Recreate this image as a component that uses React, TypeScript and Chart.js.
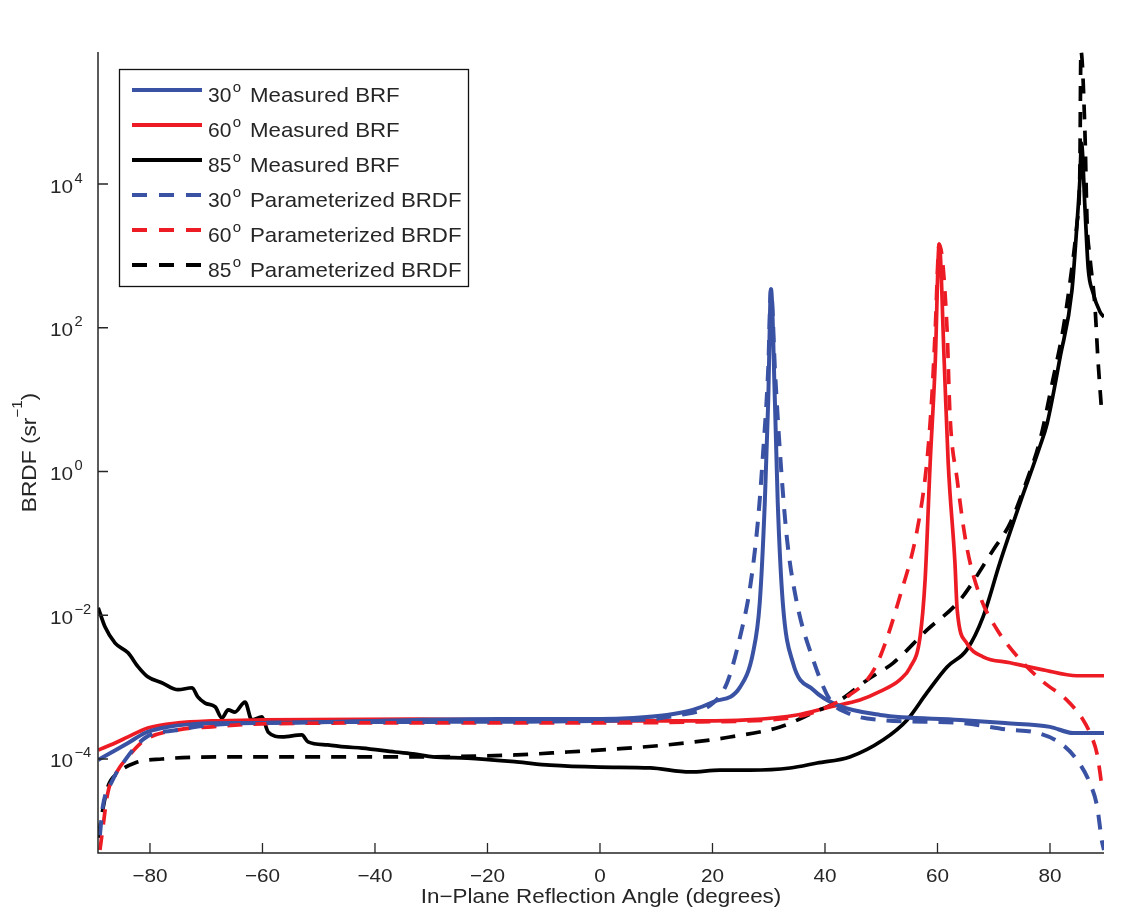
import React, { useEffect, useRef } from 'react';
import { Chart, registerables } from 'chart.js';

Chart.register(...registerables);

const W = 1130;
const H = 916;

// ---- axes ----
const xTicks = [-80, -60, -40, -20, 0, 20, 40, 60, 80];
const xTickLabels = ['\u221280', '\u221260', '\u221240', '\u221220', '0', '20', '40', '60', '80'];
const yTicks = [1e-4, 1e-2, 1, 1e2, 1e4];
const yTickExponents = ['\u22124', '\u22122', '0', '2', '4'];
const xRange = [-89.24, 89.6];
const yRange = [4.92e-6, 6.87e5];
const xTitle = 'In\u2212Plane Reflection Angle (degrees)';
const yTitleMain = 'BRDF (sr';
const yTitleSup = '\u22121';
const yTitleEnd = ')';

// ---- legend ----
const incidenceAngles = ['30', '60', '85', '30', '60', '85'];
const seriesKinds = ['Measured BRF', 'Measured BRF', 'Measured BRF', 'Parameterized BRDF', 'Parameterized BRDF', 'Parameterized BRDF'];

// ---- 30 deg measured ----
const meas30X = [-89.2, -83.9, -80.9, -77.9, -72.0, -66.1, -60.1, -32.9, -17.8, 0, 5.9, 11.9, 16.5, 20.1, 24.9, 27.2, 28.4, 29.3, 29.9, 30.4, 31.1, 31.6, 32.5, 34.3, 37.9, 42.1, 49.8, 64.0, 72.0, 80.0, 84.1, 89.6];
const meas30Y = [9.7e-5, 1.67e-4, 2.3e-4, 2.7e-4, 3.08e-4, 3.18e-4, 3.18e-4, 3.5e-4, 3.6e-4, 3.6e-4, 3.72e-4, 4.1e-4, 4.82e-4, 6.2e-4, 1.0e-3, 3.0e-3, 1.49e-2, 0.37, 9.2, 344, 9.2, 0.37, 1.49e-2, 2.18e-3, 9.2e-4, 5.66e-4, 4.1e-4, 3.5e-4, 3.16e-4, 2.8e-4, 2.3e-4, 2.3e-4];

// ---- 60 deg measured ----
const meas60X = [-89.2, -86.2, -83.9, -80.4, -75.0, -69.0, -60.1, -32.9, 0, 17.8, 26.1, 35.0, 40.9, 46.2, 49.8, 53.3, 55.1, 56.9, 57.8, 58.7, 59.6, 60.3, 61.2, 61.9, 63.1, 63.5, 65.2, 68.1, 72.9, 78.8, 84.8, 89.6];
const meas60Y = [1.33e-4, 1.67e-4, 2.03e-4, 2.7e-4, 3.18e-4, 3.39e-4, 3.5e-4, 3.6e-4, 3.39e-4, 3.39e-4, 3.5e-4, 4.1e-4, 5.3e-4, 6.6e-4, 8.7e-4, 1.26e-3, 1.86e-3, 5.0e-3, 3.13e-2, 1.33, 33, 1460, 33, 1.33, 5.4e-2, 1.19e-2, 4.1e-3, 2.64e-3, 2.18e-3, 1.74e-3, 1.44e-3, 1.44e-3];

// ---- 85 deg measured ----
const meas85X = [-89.2, -88.0, -86.2, -83.9, -82.1, -80.4, -77.9, -75.0, -72.5, -71.5, -70.2, -68.4, -67.2, -66.1, -64.9, -63.1, -61.9, -60.1, -59.0, -56.5, -53.0, -51.9, -48.4, -45.3, -42.3, -36.4, -32.9, -29.7, -23.6, -14.8, -8.9, 0, 8.9, 16.0, 21.3, 26.7, 33.8, 38.6, 44.4, 50.3, 54.6, 58.1, 61.7, 65.2, 68.1, 71.1, 74.7, 78.2, 79.5, 81.8, 83.9, 84.8, 85.3, 85.6, 86.2, 86.8, 87.6, 88.9, 89.6];
const meas85Y = [1.27e-2, 6.9e-3, 4.1e-3, 3.0e-3, 1.91e-3, 1.39e-3, 1.15e-3, 9.2e-4, 9.8e-4, 7.3e-4, 6.0e-4, 5.3e-4, 3.72e-4, 4.82e-4, 4.5e-4, 6.2e-4, 3.5e-4, 3.85e-4, 2.38e-4, 2.03e-4, 2.16e-4, 1.73e-4, 1.57e-4, 1.47e-4, 1.42e-4, 1.25e-4, 1.17e-4, 1.07e-4, 1.03e-4, 9.1e-5, 8.2e-5, 7.7e-5, 7.5e-5, 6.6e-5, 7.0e-5, 7.0e-5, 7.5e-5, 8.8e-5, 1.07e-4, 1.84e-4, 3.5e-4, 8.3e-4, 1.91e-3, 3.3e-3, 9.5e-3, 5.4e-2, 0.37, 2.23, 4.7, 39, 330, 2800, 11200, 37000, 4900, 660, 316, 166, 141];

// ---- 30 deg parameterized ----
const param30X = [-88.9, -88.4, -86.8, -84.4, -80.9, -75.0, -69.0, -60.1, -32.9, 0, 14.2, 20.1, 22.6, 24.9, 26.7, 28.1, 29.0, 29.9, 30.4, 31.1, 32.0, 33.2, 35.0, 37.9, 40.9, 43.9, 49.8, 64.0, 72.9, 77.0, 81.8, 84.8, 87.1, 88.4, 89.2, 89.6];
const param30Y = [8.7e-6, 2.14e-5, 4.8e-5, 9.7e-5, 1.96e-4, 2.54e-4, 2.98e-4, 3.18e-4, 3.28e-4, 3.39e-4, 4.1e-4, 6.0e-4, 1.15e-3, 5.0e-3, 2.5e-2, 0.214, 1.84, 26.4, 344, 26.4, 1.84, 0.124, 1.49e-2, 2.4e-3, 6.6e-4, 4.4e-4, 3.5e-4, 3.18e-4, 2.54e-4, 2.38e-4, 1.67e-4, 9.7e-5, 4.6e-5, 2.14e-5, 7.4e-6, 5.4e-6];

// ---- 60 deg parameterized ----
const param60X = [-88.9, -88.5, -87.5, -85.7, -83.9, -80.9, -75.0, -69.0, -60.1, -32.9, 0, 17.8, 35.0, 40.4, 44.4, 47.5, 49.8, 53.3, 56.4, 58.1, 59.0, 59.6, 60.3, 61.7, 62.2, 63.5, 65.2, 67.6, 70.6, 74.7, 78.8, 83.0, 85.9, 87.1, 88.4, 89.2];
const param60Y = [5.4e-6, 9.3e-6, 3.36e-5, 7.0e-5, 1.07e-4, 1.84e-4, 2.54e-4, 2.8e-4, 3.08e-4, 3.18e-4, 3.18e-4, 3.28e-4, 3.85e-4, 5.3e-4, 7.8e-4, 1.26e-3, 2.64e-3, 1.81e-2, 0.156, 1.33, 11.1, 95, 1460, 95, 6.6, 0.77, 9.0e-2, 1.81e-2, 6.3e-3, 2.4e-3, 1.18e-3, 6.6e-4, 3.5e-4, 2.3e-4, 1.14e-4, 4.3e-5];

// ---- 85 deg parameterized ----
const param85X = [-89.2, -88.5, -87.5, -85.7, -82.7, -77.9, -66.1, -32.9, -14.8, -5.9, 3.0, 11.9, 19.6, 23.1, 32.0, 37.9, 42.7, 47.5, 52.1, 58.1, 64.0, 69.9, 72.9, 75.9, 78.2, 80.5, 82.3, 83.6, 84.8, 85.3, 85.5, 86.2, 86.6, 87.1, 88.0, 88.5, 89.2];
const param85Y = [8.0e-6, 1.77e-5, 4.1e-5, 6.4e-5, 8.8e-5, 1.0e-4, 1.07e-4, 1.07e-4, 1.14e-4, 1.25e-4, 1.38e-4, 1.57e-4, 1.84e-4, 2.02e-4, 2.79e-4, 4.4e-4, 6.6e-4, 1.26e-3, 2.16e-3, 6.2e-3, 1.63e-2, 8.1e-2, 0.19, 0.76, 2.7, 18.7, 93, 460, 2850, 14100, 7.1e5, 56000, 2850, 960, 194, 39, 6.5];

const BLUE = '#3a52a3';
const RED = '#ed1c24';
const BLACK = '#000000';
const TEXT = '#262626';
const FONT = '"Liberation Sans", Arial, Helvetica, sans-serif';
const DASH = [15, 11];

const seriesXs = [meas30X, meas60X, meas85X, param30X, param60X, param85X];
const seriesYs = [meas30Y, meas60Y, meas85Y, param30Y, param60Y, param85Y];
const seriesColors = [BLUE, RED, BLACK, BLUE, RED, BLACK];
const seriesDashed = [false, false, false, true, true, true];

function drawText(ctx: CanvasRenderingContext2D, s: string, x: number, y: number, size: number, sx: number, align: CanvasTextAlign = 'left') {
  ctx.save();
  ctx.font = `${size}px ${FONT}`;
  ctx.textAlign = align;
  ctx.textBaseline = 'alphabetic';
  ctx.fillStyle = TEXT;
  ctx.translate(x, y);
  ctx.scale(sx, 1);
  ctx.fillText(s, 0, 0);
  const w = ctx.measureText(s).width * sx;
  ctx.restore();
  return w;
}

function measure(ctx: CanvasRenderingContext2D, s: string, size: number) {
  ctx.save();
  ctx.font = `${size}px ${FONT}`;
  const w = ctx.measureText(s).width;
  ctx.restore();
  return w;
}

const axesPlugin = {
  id: 'matlabAxes',
  afterDraw(chart: any) {
    const ctx: CanvasRenderingContext2D = chart.ctx;
    const a = chart.chartArea;
    const xs = chart.scales.x;
    const ys = chart.scales.y;

    // axis lines
    ctx.save();
    ctx.strokeStyle = TEXT;
    ctx.lineWidth = 1.5;
    ctx.setLineDash([]);
    ctx.beginPath();
    ctx.moveTo(a.left, a.top);
    ctx.lineTo(a.left, a.bottom);
    ctx.lineTo(a.right, a.bottom);
    ctx.stroke();
    ctx.lineWidth = 1.3;
    ctx.beginPath();
    xTicks.forEach((v) => {
      const px = xs.getPixelForValue(v);
      ctx.moveTo(px, a.bottom);
      ctx.lineTo(px, a.bottom - 10);
    });
    yTicks.forEach((v) => {
      const py = ys.getPixelForValue(v);
      ctx.moveTo(a.left, py);
      ctx.lineTo(a.left + 10, py);
    });
    ctx.stroke();
    ctx.restore();

    // tick labels
    xTicks.forEach((v, i) => {
      drawText(ctx, xTickLabels[i], xs.getPixelForValue(v), a.bottom + 29, 19, 1.09, 'center');
    });
    yTicks.forEach((v, i) => {
      const py = ys.getPixelForValue(v);
      drawText(ctx, '10', a.left - 25, py + 8.5, 19, 1.09, 'right');
      drawText(ctx, yTickExponents[i], a.left - 23.5, py - 1.5, 14, 1.05, 'left');
    });

    // x title
    drawText(ctx, xTitle, (a.left + a.right) / 2, a.bottom + 50, 20, 1.12, 'center');

    // y title (rotated)
    const sx = 1.08;
    const w1 = measure(ctx, yTitleMain, 21) * sx;
    const w2 = measure(ctx, yTitleSup, 14) * sx;
    const w3 = measure(ctx, yTitleEnd, 21) * sx;
    const total = w1 + w2 + w3;
    ctx.save();
    ctx.translate(a.left - 62, (a.top + a.bottom) / 2);
    ctx.rotate(-Math.PI / 2);
    let cx = -total / 2;
    drawText(ctx, yTitleMain, cx, 0, 21, sx);
    cx += w1;
    drawText(ctx, yTitleSup, cx, -14, 14, sx);
    cx += w2;
    drawText(ctx, yTitleEnd, cx, 0, 21, sx);
    ctx.restore();

    // legend
    const lx = a.left + 21.5;
    const ly = a.top + 17.5;
    ctx.save();
    ctx.fillStyle = '#ffffff';
    ctx.fillRect(lx, ly, 349, 217);
    ctx.strokeStyle = '#111111';
    ctx.lineWidth = 1.3;
    ctx.strokeRect(lx, ly, 349, 217);
    ctx.restore();
    for (let i = 0; i < seriesColors.length; i++) {
      const y = ly + 20.5 + 35 * i;
      ctx.save();
      ctx.strokeStyle = seriesColors[i];
      ctx.lineWidth = 4;
      ctx.lineCap = 'butt';
      ctx.setLineDash(seriesDashed[i] ? [15, 12] : []);
      ctx.beginPath();
      ctx.moveTo(lx + 12.5, y);
      ctx.lineTo(lx + 82.5, y);
      ctx.stroke();
      ctx.restore();
      const w = drawText(ctx, incidenceAngles[i], lx + 88.5, y + 12, 21, 1.0);
      drawText(ctx, 'o', lx + 88.5 + w + 1.5, y + 2, 15, 1.0);
      drawText(ctx, seriesKinds[i], lx + 130.5, y + 12, 21, 1.06);
    }
  },
};

export default function App() {
  const ref = useRef<HTMLCanvasElement>(null);
  useEffect(() => {
    const canvas = ref.current;
    if (!canvas) return;
    const datasets = seriesXs.map((xsArr, i) => ({
      label: `${incidenceAngles[i]}\u00b0 ${seriesKinds[i]}`,
      data: xsArr.map((x, j) => ({ x, y: seriesYs[i][j] })),
      borderColor: seriesColors[i],
      backgroundColor: seriesColors[i],
      borderWidth: seriesColors[i] === BLUE ? 4 : 3.7,
      borderDash: seriesDashed[i] ? DASH : [],
      borderCapStyle: 'butt' as const,
      borderJoinStyle: 'round' as const,
      pointRadius: 0,
      cubicInterpolationMode: 'monotone' as const,
      fill: false,
      order: seriesDashed[i] ? 0 : 1,
    }));
    const chart = new Chart(canvas, {
      type: 'line',
      data: { datasets },
      options: {
        animation: false,
        responsive: false,
        devicePixelRatio: 1,
        layout: { padding: { left: 98, top: 52, right: W - 1104, bottom: H - 853 } },
        plugins: { legend: { display: false }, tooltip: { enabled: false } },
        events: [],
        scales: {
          x: { type: 'linear', min: xRange[0], max: xRange[1], display: false },
          y: { type: 'logarithmic', min: yRange[0], max: yRange[1], display: false },
        },
      },
      plugins: [axesPlugin],
    } as any);
    return () => chart.destroy();
  }, []);
  return (
    <canvas
      ref={ref}
      width={W}
      height={H}
      style={{ position: 'absolute', left: 0, top: 0, width: W, height: H, background: '#ffffff' }}
    />
  );
}
